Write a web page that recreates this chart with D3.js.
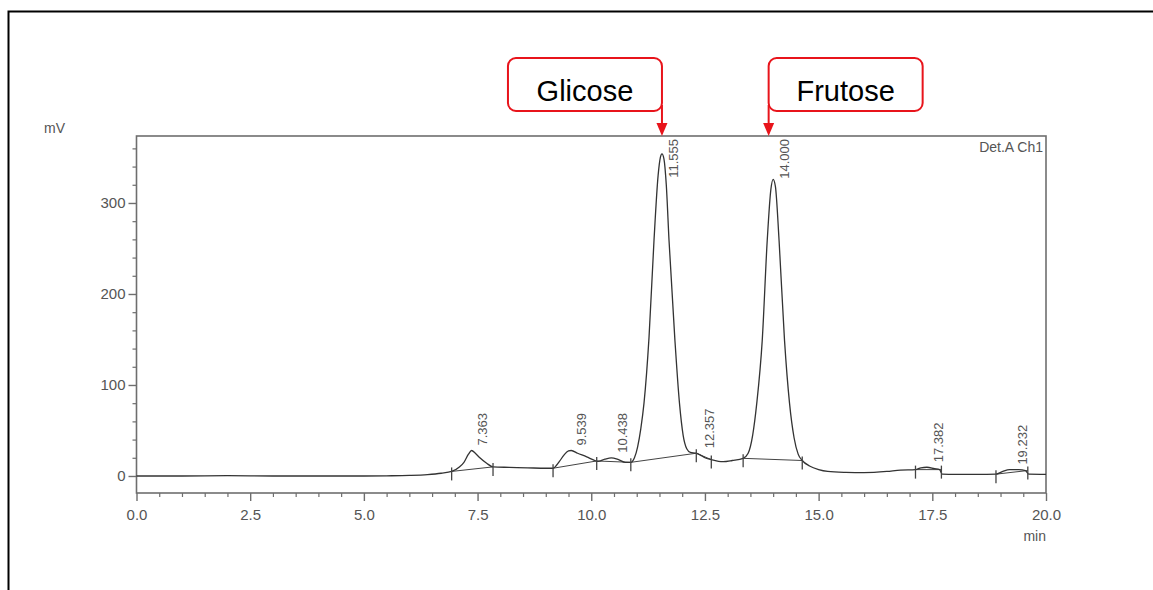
<!DOCTYPE html>
<html>
<head>
<meta charset="utf-8">
<script src="https://cdn.jsdelivr.net/npm/d3@7"></script>
<style>
  body { margin: 0; background: #fff; }
  svg { display: block; font-family: "Liberation Sans", Arial, sans-serif; }
</style>
</head>
<body>
<svg id="chart" width="1153" height="590"></svg>
<script>
// chromatogram trace: [time (min), signal (mV)]
const trace = [
  [0,0],[1,0],[2,0.3],[3,0],[4,0],[5,0],[5.5,0.2],[6,0.6],[6.4,1.5],[6.7,3],[6.93,5],
  [7.1,10],[7.2,15],[7.3,24],[7.37,28],[7.45,25],[7.55,20],[7.7,14],[7.84,10],
  [8.2,9.5],[8.6,9],[9.0,8.5],[9.16,8.5],[9.3,16],[9.4,23],[9.5,27.5],[9.56,28],
  [9.7,25],[9.9,21],[10.08,17],[10.15,16],[10.3,18.5],[10.44,20],[10.6,18],[10.75,15],[10.87,15],
  [10.95,20],[11.02,32],[11.09,52],[11.16,80],[11.27,152],[11.38,259],[11.47,330],[11.52,350],[11.555,354],
  [11.6,348],[11.65,320],[11.71,259],[11.84,149],[11.94,80],[12.02,45],[12.1,30],[12.18,26],
  [12.31,25],[12.4,23],[12.5,20],[12.64,18],[12.8,16],[12.9,15.7],[13.1,17],[13.34,19.4],
  [13.45,25],[13.55,45],[13.64,80],[13.76,149],[13.87,259],[13.95,315],[14.0,326],[14.05,318],
  [14.13,259],[14.25,149],[14.36,80],[14.46,42],[14.55,24],[14.64,17],
  [14.8,11],[15.0,7],[15.2,5],[15.6,4],[16.0,3.7],[16.5,5],[16.8,6.5],[17.13,7],[17.25,9],
  [17.38,9.6],[17.55,8],[17.66,7],[17.72,2],[18.0,1.8],[18.5,1.8],[18.9,2],[19.05,5],
  [19.2,7],[19.4,7],[19.55,6],[19.62,2],[20,1.8]
];

// detected peaks
const peakTimes   = [7.363, 9.539, 10.438, 11.555, 12.357, 14.000, 17.382, 19.232];
const peakHeights = [28, 28, 20, 354, 25, 326, 9.6, 7];
const peakLabels  = ["7.363", "9.539", "10.438", "11.555", "12.357", "14.000", "17.382", "19.232"];

// peak start / end markers
const markerTimes  = [6.93, 7.84, 9.16, 10.12, 10.87, 12.31, 12.64, 13.34, 14.64, 17.13, 17.7, 18.9, 19.6];
const markerLevels = [5, 10, 8.5, 16.5, 15, 25, 18, 19.4, 17, 7, 7, 2, 6];
// integration baselines, pairs of marker indexes
const baselinePairs = [[0,1],[2,3],[3,4],[4,5],[5,6],[7,8],[9,10],[11,12]];

// named compounds
const compoundNames = ["Glicose", "Frutose"];
const compoundTimes = [11.555, 14.000];

const xTicks = [0, 2.5, 5, 7.5, 10, 12.5, 15, 17.5, 20];
const yTicks = [0, 100, 200, 300];

const svg = d3.select("#chart");
const plot = {left: 136.5, right: 1046, top: 136, bottom: 493};

// outer black frame (runs off the right and bottom edges)
svg.append("rect")
  .attr("x", 8.5).attr("y", 11.5)
  .attr("width", 1160).attr("height", 620)
  .attr("fill", "none").attr("stroke", "#000").attr("stroke-width", 2);

const x = d3.scaleLinear().domain([0, 20]).range([plot.left, plot.right]);
const y = d3.scaleLinear().domain([-18.7, 373.6]).range([plot.bottom, plot.top]);

const gray = "#6e6e6e";
const textGray = "#555";

// plot box
svg.append("rect")
  .attr("x", plot.left).attr("y", plot.top)
  .attr("width", plot.right - plot.left).attr("height", plot.bottom - plot.top)
  .attr("fill", "none").attr("stroke", gray).attr("stroke-width", 1.6);

// x axis: minor + major
const xMinor = d3.range(0, 20.01, 0.5).filter(v => v % 2.5 !== 0);
svg.append("g")
  .attr("transform", `translate(0,${plot.bottom})`)
  .call(d3.axisBottom(x).tickValues(xMinor).tickSize(4).tickFormat(""))
  .call(g => g.select(".domain").remove())
  .call(g => g.selectAll("line").attr("stroke", gray).attr("stroke-width", 1.2));
svg.append("g")
  .attr("transform", `translate(0,${plot.bottom})`)
  .call(d3.axisBottom(x).tickValues(xTicks).tickSize(8).tickPadding(8).tickFormat(d3.format(".1f")))
  .call(g => g.select(".domain").remove())
  .call(g => g.selectAll("line").attr("stroke", gray).attr("stroke-width", 1.4))
  .call(g => g.selectAll("text").attr("fill", textGray).attr("font-size", 15)
    .attr("font-family", "'Liberation Sans', Arial, sans-serif"));

// y axis: minor + major
const yMinor = d3.range(20, 370, 20).filter(v => v % 100 !== 0);
svg.append("g")
  .attr("transform", `translate(${plot.left},0)`)
  .call(d3.axisLeft(y).tickValues(yMinor).tickSize(4).tickFormat(""))
  .call(g => g.select(".domain").remove())
  .call(g => g.selectAll("line").attr("stroke", gray).attr("stroke-width", 1.2));
svg.append("g")
  .attr("transform", `translate(${plot.left},0)`)
  .call(d3.axisLeft(y).tickValues(yTicks).tickSize(8).tickPadding(3))
  .call(g => g.select(".domain").remove())
  .call(g => g.selectAll("line").attr("stroke", gray).attr("stroke-width", 1.4))
  .call(g => g.selectAll("text").attr("fill", textGray).attr("font-size", 15)
    .attr("font-family", "'Liberation Sans', Arial, sans-serif"));

// axis captions
svg.append("text").attr("x", 44).attr("y", 133)
  .attr("font-size", 14).attr("fill", textGray).text("mV");
svg.append("text").attr("x", plot.right).attr("y", 541)
  .attr("text-anchor", "end").attr("font-size", 14).attr("fill", textGray).text("min");
svg.append("text").attr("x", plot.right - 3).attr("y", 152)
  .attr("text-anchor", "end").attr("font-size", 14).attr("fill", textGray).text("Det.A Ch1");

// integration baselines
svg.append("g").selectAll("line")
  .data(baselinePairs)
  .join("line")
  .attr("x1", d => x(markerTimes[d[0]])).attr("y1", d => y(markerLevels[d[0]]))
  .attr("x2", d => x(markerTimes[d[1]])).attr("y2", d => y(markerLevels[d[1]]))
  .attr("stroke", "#444").attr("stroke-width", 1);

// trace
const line = d3.line()
  .x(d => x(d[0])).y(d => y(d[1]))
  .curve(d3.curveMonotoneX);
svg.append("path")
  .datum(trace)
  .attr("d", line)
  .attr("fill", "none").attr("stroke", "#333").attr("stroke-width", 1.3);

// start / end markers
svg.append("g").selectAll("line")
  .data(markerTimes)
  .join("line")
  .attr("x1", d => x(d)).attr("x2", d => x(d))
  .attr("y1", (d, i) => y(markerLevels[i]) - 4)
  .attr("y2", (d, i) => y(markerLevels[i]) + 9)
  .attr("stroke", "#444").attr("stroke-width", 1.3);

// peak retention time labels (rotated)
const labels = svg.append("g").selectAll("text")
  .data(peakTimes)
  .join("text")
  .attr("font-size", 13).attr("fill", textGray)
  .text((d, i) => peakLabels[i]);
labels.each(function(d, i) {
  const len = this.getComputedTextLength();
  const ly = Math.max(y(peakHeights[i]) - 5, plot.top + len + 3);
  d3.select(this).attr("transform", `translate(${x(d) + 16},${ly}) rotate(-90)`);
});

// compound call-outs
const boxW = 154, boxH = 53, boxTop = 58;
const callouts = svg.append("g").selectAll("g")
  .data(compoundNames)
  .join("g");
callouts.each(function(name, i) {
  const g = d3.select(this);
  const ax = x(compoundTimes[i]) + (i === 0 ? 0 : -4.5);
  const bx = i === 0 ? ax - boxW : ax;
  g.append("rect")
    .attr("x", bx).attr("y", boxTop).attr("width", boxW).attr("height", boxH)
    .attr("rx", 8).attr("fill", "#fff").attr("stroke", "#e8141b").attr("stroke-width", 2);
  g.append("text")
    .attr("x", bx + boxW / 2).attr("y", 101)
    .attr("text-anchor", "middle").attr("font-size", 29).attr("fill", "#000")
    .text(name);
  g.append("line")
    .attr("x1", ax).attr("x2", ax).attr("y1", boxTop + boxH - 6).attr("y2", plot.top - 10)
    .attr("stroke", "#e8141b").attr("stroke-width", 2);
  g.append("path")
    .attr("d", `M${ax - 5.5},${plot.top - 13} L${ax + 5.5},${plot.top - 13} L${ax},${plot.top} Z`)
    .attr("fill", "#e8141b");
});
</script>
</body>
</html>
